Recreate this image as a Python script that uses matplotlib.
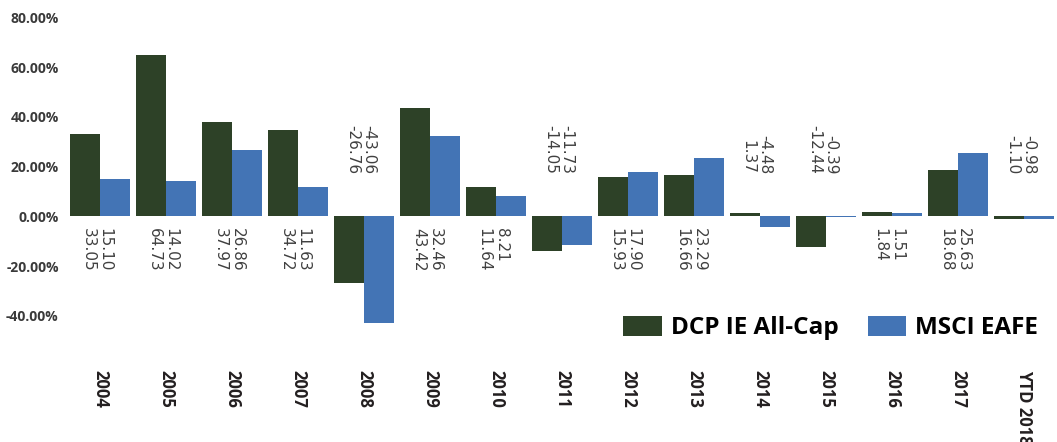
import matplotlib.pyplot as plt
import numpy as np

years = ['2004', '2005', '2006', '2007', '2008', '2009', '2010', '2011',
         '2012', '2013', '2014', '2015', '2016', '2017', 'YTD 2018']
dcp = [33.05, 64.73, 37.97, 34.72, -26.76, 43.42, 11.64, -14.05,
       15.93, 16.66, 1.37, -12.44, 1.84, 18.68, -1.10]
msci = [15.10, 14.02, 26.86, 11.63, -43.06, 32.46, 8.21, -11.73,
        17.90, 23.29, -4.48, -0.39, 1.51, 25.63, -0.98]
yticks = [-40, -20, 0, 20, 40, 60, 80]

green = '#2d4127'
blue = '#4374b5'

fig = plt.figure(figsize=(10.57, 4.42), dpi=100)
ax = fig.add_axes([67 / 1057, 1 - 365.4 / 442, 990 / 1057, 347.9 / 442])

x = np.arange(len(years))
w = 0.455
ax.bar(x - w / 2, dcp, w, color=green, label='DCP IE All-Cap')
ax.bar(x + w / 2, msci, w, color=blue, label='MSCI EAFE')

ax.set_xlim(-0.5, len(years) - 0.5)
ax.set_ylim(-60, 80)
ax.set_yticks(yticks)
ax.set_yticklabels([f'{v:.2f}%' for v in yticks], fontfamily='Open Sans',
                   fontweight='bold', fontsize=10, color='#3a3a3a')
ax.set_xticks(x)
ax.set_xticklabels(years, rotation=-90, fontfamily='Open Sans',
                   fontweight='bold', fontsize=12, color='#231f20')
ax.tick_params(axis='both', length=0)
ax.tick_params(axis='x', pad=3)
ax.tick_params(axis='y', pad=6)
for s in ax.spines.values():
    s.set_visible(False)

# combined value labels, msci on the first line
for i in range(len(years)):
    txt = f'{msci[i]:.2f}\n{dcp[i]:.2f}'
    if msci[i] >= 0:
        ax.text(x[i] - 0.05, -4.8, txt, rotation=-90, ha='center', va='top',
                multialignment='left', fontsize=11, color='#404040',
                linespacing=1.15)
    else:
        ax.text(x[i] - 0.05, 17, txt, rotation=-90, ha='center', va='bottom',
                multialignment='right', fontsize=11, color='#404040',
                linespacing=1.15)

fig.legend(loc='center left', bbox_to_anchor=(623 / 1057, 1 - 328 / 442),
           ncol=2, frameon=False, borderpad=0, borderaxespad=0,
           handlelength=1.6, handleheight=0.9, handletextpad=0.36,
           columnspacing=1.2,
           prop={'family': 'Open Sans', 'weight': 'bold', 'size': 17.5})

fig.savefig('out.png', dpi=100)
